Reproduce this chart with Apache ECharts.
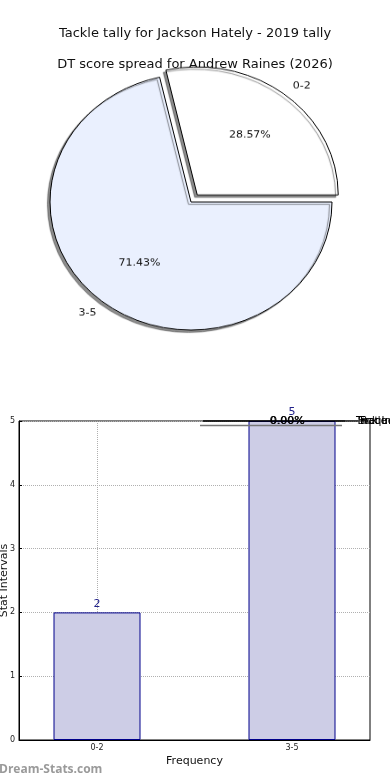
<!DOCTYPE html>
<html><head><meta charset="utf-8">
<script src="https://cdn.jsdelivr.net/npm/echarts@6/dist/echarts.min.js"></script>
<style>
html,body{margin:0;padding:0;background:#fff;}
#main{position:absolute;left:0;top:0;width:390px;height:780px;}
#pie{position:absolute;left:0;top:0;width:390px;height:780px;transform:scaleY(0.908);transform-origin:191px 202px;}
</style></head>
<body>
<div id="main"></div>
<div id="pie"></div>
<script>
const titleMain = "Tackle tally for Jackson Hately - 2019 tally";
const titlePie = "DT score spread for Andrew Raines (2026)";
const categories = ["0-2", "3-5"];
const counts = [2, 5];
const pieColors = ["#ffffff", "#eaf0fe"];
const yTicks = [0, 1, 2, 3, 4, 5];
const xAxisName = "Frequency";
const yAxisName = "Stat Intervals";
const watermark = "Dream-Stats.com";

const FONT = "DejaVu Sans";

// x axis spans -0.4 .. 1.4 in category units, sampled every 0.2 (boundaryGap false)
const SLOTS = 10, FIRST = 2, STEP = 5;
const slotIdx = categories.map((c,i)=>FIRST + i*STEP);
const xSlots = Array.from({length:SLOTS},()=> '');
const barSlots = Array.from({length:SLOTS},()=> null);
categories.forEach((c,i)=>{ xSlots[slotIdx[i]] = c; barSlots[slotIdx[i]] = counts[i]; });
const isCat = (i)=> slotIdx.indexOf(i) >= 0;

const main = echarts.init(document.getElementById('main'), null, {renderer:'canvas'});
main.setOption({
  animation:false,
  backgroundColor:'#fff',
  title:[
    {text:titleMain,left:'center',top:22,textStyle:{fontFamily:FONT,fontSize:13,fontWeight:'normal',color:'#111'}},
    {text:titlePie,left:'center',top:53,textStyle:{fontFamily:FONT,fontSize:13,fontWeight:'normal',color:'#111'}}
  ],
  grid:{left:19,right:20,top:421,bottom:40,containLabel:false,outerBoundsMode:'none',show:true,borderColor:'#000',borderWidth:1,backgroundColor:'transparent'},
  xAxis:{type:'category',data:xSlots,boundaryGap:false,name:xAxisName,nameLocation:'middle',nameGap:16,nameMoveOverlap:false,
     nameTextStyle:{fontFamily:FONT,fontSize:11,color:'#111'},
     axisLine:{lineStyle:{color:'#000'}},
     axisTick:{interval:function(i){return isCat(i);},inside:true,length:3,lineStyle:{color:'#000'}},
     axisLabel:{interval:function(i){return isCat(i);},fontFamily:FONT,fontSize:8,color:'#222',margin:4},
     splitLine:{show:true,interval:function(i){return isCat(i);},lineStyle:{type:'dotted',color:'#b0b0b0',width:1}}},
  yAxis:{type:'value',min:yTicks[0],max:yTicks[yTicks.length-1],interval:1,name:yAxisName,nameLocation:'middle',nameGap:9,nameMoveOverlap:false,
    nameTextStyle:{fontFamily:FONT,fontSize:11,color:'#111'},
    axisLine:{show:true,lineStyle:{color:'#000'}},
    axisTick:{show:true,inside:true,length:3,lineStyle:{color:'#000'}},
    axisLabel:{fontFamily:FONT,fontSize:8,color:'#222',margin:4},
    splitLine:{show:true,lineStyle:{type:'dotted',color:'#b0b0b0',width:1}}},
  series:[{type:'bar',data:barSlots,barWidth:87,
    itemStyle:{color:'#cdcde6',borderColor:'#00008b',borderWidth:1},
    label:{show:true,position:'top',distance:3,fontFamily:FONT,fontSize:11,color:'#22228a'},
    z:2}],
  graphic:[
    {type:'line',shape:{x1:203,y1:421,x2:345,y2:421},style:{stroke:'#000',lineWidth:1.5},z:10},
    {type:'line',shape:{x1:200,y1:425.5,x2:342,y2:425.5},style:{stroke:'#777',lineWidth:1.5},z:10},
    {type:'line',shape:{x1:345,y1:421,x2:358,y2:421},style:{stroke:'#000',lineWidth:1},z:10},
    {type:'text',x:287,y:421,style:{text:'0.00%',fontFamily:FONT,fontSize:11,fill:'#000',align:'center',verticalAlign:'middle'},z:11},
    {type:'text',x:287.6,y:421.4,style:{text:'0.00%',fontFamily:FONT,fontSize:11,fill:'#000',align:'center',verticalAlign:'middle'},z:11},
    {type:'text',x:356,y:421,style:{text:'Tackle',fontFamily:FONT,fontSize:10,fill:'#000',verticalAlign:'middle'},z:11},
    {type:'text',x:358,y:421,style:{text:'Stat Int',fontFamily:FONT,fontSize:10,fill:'#000',verticalAlign:'middle'},z:11},
    {type:'text',x:360,y:421,style:{text:'Freque',fontFamily:FONT,fontSize:10,fill:'#000',verticalAlign:'middle'},z:11},
    {type:'text',x:-1,y:770,style:{text:watermark,fontFamily:'Open Sans',fontSize:12,fontWeight:'bold',fill:'#9a9a9a',verticalAlign:'middle'},z:11}
  ]
});

const pie = echarts.init(document.getElementById('pie'), null, {renderer:'canvas'});
const pieData = categories.map((c,i)=>({name:c,value:counts[i],selected:i===0,itemStyle:{color:pieColors[i]}}));
const R = 141;
const pctOffsets = [[-2,2.2],[3,-1.1]];
const nameOffsets = [[6,3.3],[-5,-1.1]];
const common = {center:[191,202],startAngle:102.857,clockwise:true,selectedMode:'single',selectedOffset:10,
  silent:true,animation:false,emphasis:{disabled:true},labelLine:{show:false}};
function labelItem(c,i,offs){
  return {name:c,value:counts[i],selected:i===0,label:{offset:offs[i]},select:{label:{offset:offs[i]}}};
}
pie.setOption({
  animation:false,
  series:[
    Object.assign({},common,{type:'pie',radius:[0,R],data:pieData,
      itemStyle:{borderColor:'#000',borderWidth:1,shadowColor:'rgba(0,0,0,0.45)',shadowBlur:1,shadowOffsetX:-2.5,shadowOffsetY:2.5},
      label:{show:false}}),
    Object.assign({},common,{type:'pie',radius:[0.2*R,R],
      data:categories.map((c,i)=>labelItem(c,i,pctOffsets)),
      itemStyle:{color:'rgba(0,0,0,0)',borderWidth:0},
      label:{show:true,position:'inside',formatter:'{d}%',fontFamily:FONT,fontSize:11,color:'#111'}}),
    Object.assign({},common,{type:'pie',radius:[1.0*R,1.2*R],
      data:categories.map((c,i)=>labelItem(c,i,nameOffsets)),
      itemStyle:{color:'rgba(0,0,0,0)',borderWidth:0},
      label:{show:true,position:'inside',formatter:'{b}',fontFamily:FONT,fontSize:11,color:'#111'}})
  ]
});
</script>
</body></html>
